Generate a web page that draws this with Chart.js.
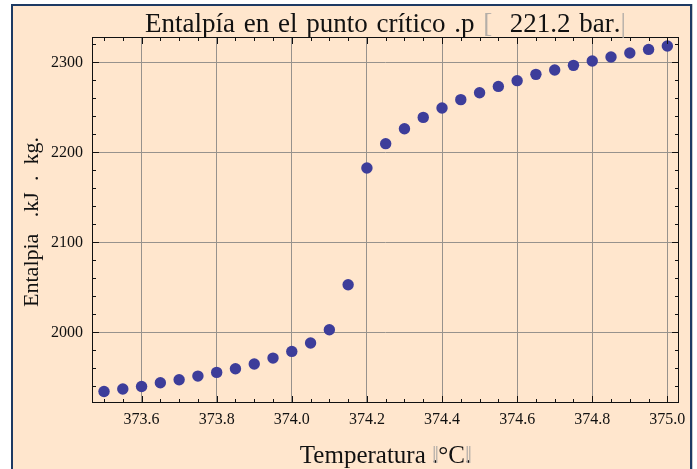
<!DOCTYPE html>
<html lang="es">
<head>
    <meta charset="UTF-8" />
    <title>Entalpía en el punto crítico</title>
    <script src="https://cdn.jsdelivr.net/npm/chart.js"></script>
    <style>
        html, body { margin: 0; padding: 0; background: #fff; }
        body { width: 697px; height: 469px; position: relative; overflow: hidden; }
        .frame {
            position: absolute; left: 11px; top: 4px; width: 681px; height: 480px;
            box-sizing: border-box; border: 2px solid #1d3a63; background: #ffe6cd;
            box-shadow: 1px 0 0 #c8c8c8;
        }
        #chart { position: absolute; left: 0; top: 0; }
    </style>
</head>
<body>
<div class="frame"></div>
<canvas id="chart" width="697" height="469"></canvas>
<script>
    // Temperatura (°C) y entalpía (kJ/kg) a p = 221.2 bar
    const temps = [373.50, 373.55, 373.60, 373.65, 373.70, 373.75, 373.80, 373.85, 373.90, 373.95,
                   374.00, 374.05, 374.10, 374.15, 374.20, 374.25, 374.30, 374.35, 374.40, 374.45,
                   374.50, 374.55, 374.60, 374.65, 374.70, 374.75, 374.80, 374.85, 374.90, 374.95, 375.00];
    const enthalpy = [1934.4, 1937.1, 1940.0, 1944.1, 1947.4, 1951.5, 1955.6, 1959.7, 1964.9, 1971.5,
                      1978.9, 1988.2, 2003.0, 2053.0, 2182.7, 2209.7, 2226.3, 2238.9, 2249.3, 2258.6,
                      2266.3, 2273.3, 2279.7, 2286.7, 2291.6, 2296.7, 2301.6, 2306.0, 2310.4, 2314.4, 2318.2];
    const xTicks = [373.6, 373.8, 374.0, 374.2, 374.4, 374.6, 374.8, 375.0];
    const yTicks = [2000, 2100, 2200, 2300];

    const SERIF = "'Liberation Serif', 'DejaVu Serif', serif";
    const BLACK = '#111';
    const GRAY = '#b4aea8';

    // draws a row of text pieces, some greyed, centred on cx
    function drawRuns(ctx, runs, cx, y) {
        let total = 0;
        runs.forEach(r => { if (!r.over) total += ctx.measureText(r.t).width; });
        let x = cx - total / 2;
        ctx.textAlign = 'left';
        runs.forEach(r => {
            ctx.fillStyle = r.c;
            if (r.over) {
                ctx.fillText(r.t, x - ctx.measureText('.').width, y);
            } else {
                ctx.fillText(r.t, x, y);
                x += ctx.measureText(r.t).width;
            }
        });
    }

    const framePlugin = {
        id: 'framePlugin',
        afterDraw(chart) {
            const ctx = chart.ctx;
            const a = chart.chartArea;
            const xs = chart.scales.x, ys = chart.scales.y;
            ctx.save();
            ctx.strokeStyle = BLACK;
            ctx.lineWidth = 1;
            ctx.strokeRect(a.left + 0.5, a.top + 0.5, a.right - a.left - 1, a.bottom - a.top - 1);

            ctx.beginPath();
            for (let k = 0; k <= 30; k++) {
                const v = 373.5 + k * 0.05;
                const px = Math.round(xs.getPixelForValue(v)) + 0.5;
                const len = (k % 4 === 2) ? 7 : 4;
                ctx.moveTo(px, a.bottom); ctx.lineTo(px, a.bottom - len);
                ctx.moveTo(px, a.top); ctx.lineTo(px, a.top + len);
            }
            for (let v = 1940; v <= 2320; v += 20) {
                const py = Math.round(ys.getPixelForValue(v)) + 0.5;
                const len = (v % 100 === 0) ? 7 : 4;
                ctx.moveTo(a.left, py); ctx.lineTo(a.left + len, py);
                ctx.moveTo(a.right, py); ctx.lineTo(a.right - len, py);
            }
            ctx.stroke();

            const cx = (a.left + a.right) / 2;
            ctx.textBaseline = 'alphabetic';
            ctx.font = '27px ' + SERIF;
            ctx.wordSpacing = '2px';
            drawRuns(ctx, [
                { t: 'Entalpía en el punto crítico ', c: BLACK },
                { t: '.', c: BLACK },
                { t: 'p ', c: BLACK },
                { t: '[', c: GRAY },
                { t: '  221.2 bar', c: BLACK },
                { t: '.', c: BLACK },
                { t: '|', c: GRAY }
            ], cx, 32);
            ctx.wordSpacing = '0px';

            ctx.font = '25px ' + SERIF;
            drawRuns(ctx, [
                { t: 'Temperatura ', c: BLACK },
                { t: '.', c: BLACK },
                { t: '‖', c: GRAY, over: true },
                { t: '°C', c: BLACK },
                { t: '.', c: BLACK },
                { t: '‖', c: GRAY, over: true }
            ], cx, 463);

            ctx.translate(38, 222);
            ctx.rotate(-Math.PI / 2);
            ctx.font = '22px ' + SERIF;
            ctx.fillStyle = BLACK;
            ctx.textAlign = 'center';
            ctx.fillText('Entalpia   .kJ  .  kg.', 0, 0);
            ctx.restore();
        }
    };

    new Chart(document.getElementById('chart'), {
        type: 'scatter',
        data: {
            datasets: [{
                data: temps.map((t, i) => ({ x: t, y: enthalpy[i] })),
                backgroundColor: '#3d3d9a',
                borderWidth: 0,
                pointRadius: 5.7,
                pointHoverRadius: 5.7
            }]
        },
        options: {
            responsive: false,
            animation: false,
            layout: { padding: { top: 37, right: 18, left: 0, bottom: 0 } },
            plugins: { legend: { display: false }, tooltip: { enabled: false } },
            scales: {
                x: {
                    type: 'linear',
                    min: 373.468,
                    max: 375.031,
                    afterBuildTicks: s => { s.ticks = xTicks.map(v => ({ value: v })); },
                    afterFit: s => { s.height = 66; },
                    grid: { color: '#97928d', lineWidth: 1, drawTicks: false },
                    border: { display: false },
                    ticks: {
                        padding: 7,
                        color: BLACK,
                        font: { family: SERIF, size: 16 },
                        callback: v => v.toFixed(1)
                    }
                },
                y: {
                    min: 1921.6,
                    max: 2328.2,
                    afterBuildTicks: s => { s.ticks = yTicks.map(v => ({ value: v })); },
                    afterFit: s => { s.width = 92; },
                    grid: { color: '#97928d', lineWidth: 1, drawTicks: false },
                    border: { display: false },
                    ticks: {
                        padding: 9,
                        color: BLACK,
                        font: { family: SERIF, size: 16 },
                        callback: v => String(v)
                    }
                }
            }
        },
        plugins: [framePlugin]
    });
</script>
</body>
</html>
